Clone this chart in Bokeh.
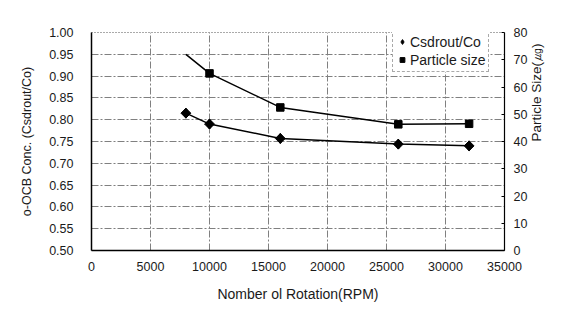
import math
from bokeh.plotting import figure
from bokeh.models import Range1d, LinearAxis, FixedTicker, NumeralTickFormatter, Legend, LegendItem
from bokeh.embed import file_html
from bokeh.resources import INLINE

# Data
rpm_conc = [8000, 10000, 16000, 26000, 32000]
conc = [0.815, 0.790, 0.757, 0.744, 0.740]

rpm_size_line = [8000, 10000, 16000, 26000, 32000]
size_line = [72.0, 65.0, 52.5, 46.3, 46.5]
rpm_size = [10000, 16000, 26000, 32000]
size = [65.0, 52.5, 46.3, 46.5]

x_ticks = [0, 5000, 10000, 15000, 20000, 25000, 30000, 35000]
left_ticks = [0.50, 0.55, 0.60, 0.65, 0.70, 0.75, 0.80, 0.85, 0.90, 0.95, 1.00]
right_ticks = [0, 10, 20, 30, 40, 50, 60, 70, 80]

FONT = "Liberation Sans"
TXT = "#1a1a1a"

p = figure(width=554, height=304, output_backend="svg", toolbar_location=None,
           x_range=Range1d(0, 35000), y_range=Range1d(0.5, 1.0),
           min_border_left=91, min_border_right=47, min_border_top=32, min_border_bottom=54)
p.extra_y_ranges = {"ps": Range1d(0, 80)}

p.outline_line_color = "#555555"
p.outline_line_dash = "1 2"
p.outline_line_width = 1

# grid
for g in (p.xgrid, p.ygrid):
    g.grid_line_color = "#808080"
    g.grid_line_dash = "7 2 2 2"
    g.grid_line_width = 1
p.xgrid.ticker = FixedTicker(ticks=x_ticks)
p.ygrid.ticker = FixedTicker(ticks=left_ticks)

# axes
xa = p.xaxis[0]
xa.ticker = FixedTicker(ticks=x_ticks)
xa.axis_label = "Nomber ol Rotation(RPM)"
ya = p.yaxis[0]
ya.ticker = FixedTicker(ticks=left_ticks)
ya.formatter = NumeralTickFormatter(format="0.00")
ya.axis_label = "o-OCB Conc. (Csdrout/Co)"

ra = LinearAxis(y_range_name="ps", ticker=FixedTicker(ticks=right_ticks),
                axis_label="Particle Size(\u338d)")
p.add_layout(ra, "right")

for ax in (xa, ya, ra):
    ax.axis_line_color = "black"
    ax.axis_line_width = 1.5
    ax.major_tick_out = 0
    ax.major_tick_in = 0
    ax.minor_tick_line_color = None
    ax.major_label_text_font = FONT
    ax.major_label_text_font_size = "12.5px"
    ax.major_label_text_color = TXT
    ax.axis_label_text_font = FONT
    ax.axis_label_text_font_style = "normal"
    ax.axis_label_text_color = TXT
xa.axis_label_text_font_size = "14px"
ya.axis_label_text_font_size = "12.5px"
ra.axis_label_text_font_size = "13.5px"
ra.axis_label_orientation = math.pi / 2
ra.major_tick_in = 3
ra.major_tick_line_color = "black"
xa.major_label_standoff = 11
xa.axis_label_standoff = 12
ya.major_label_standoff = 18
ya.axis_label_standoff = 12
ra.major_label_standoff = 9
ra.axis_label_standoff = 6
ra.axis_line_width = 1.2

# lines
p.line(rpm_conc, conc, line_color="black", line_width=1.5)
p.line(rpm_size_line, size_line, line_color="black", line_width=1.5, y_range_name="ps")
# diamond (used for the legend), covered by the wider rotated square on the plot
r1 = p.scatter(rpm_conc, conc, marker="diamond", size=10, fill_color="black", line_color="black")
p.scatter(rpm_conc, conc, marker="square", angle=math.pi / 4, size=7,
          fill_color="black", line_color="black")
r2 = p.scatter(rpm_size, size, marker="square", size=7.5, fill_color="black", line_color="black",
               y_range_name="ps")

legend = Legend(items=[LegendItem(label="Csdrout/Co", renderers=[r1]),
                       LegendItem(label="Particle size", renderers=[r2])],
                location=(301, 178))
legend.label_text_font = FONT
legend.label_text_font_size = "14px"
legend.label_text_color = TXT
legend.border_line_color = "#555555"
legend.border_line_dash = "2 1"
legend.background_fill_color = "white"
legend.background_fill_alpha = 1
legend.padding = 3
legend.spacing = 1
legend.margin = 0
legend.label_height = 17
legend.glyph_height = 17
legend.glyph_width = 12
legend.label_standoff = 2
p.add_layout(legend, "center")

open("out.html", "w").write(file_html(p, INLINE))
